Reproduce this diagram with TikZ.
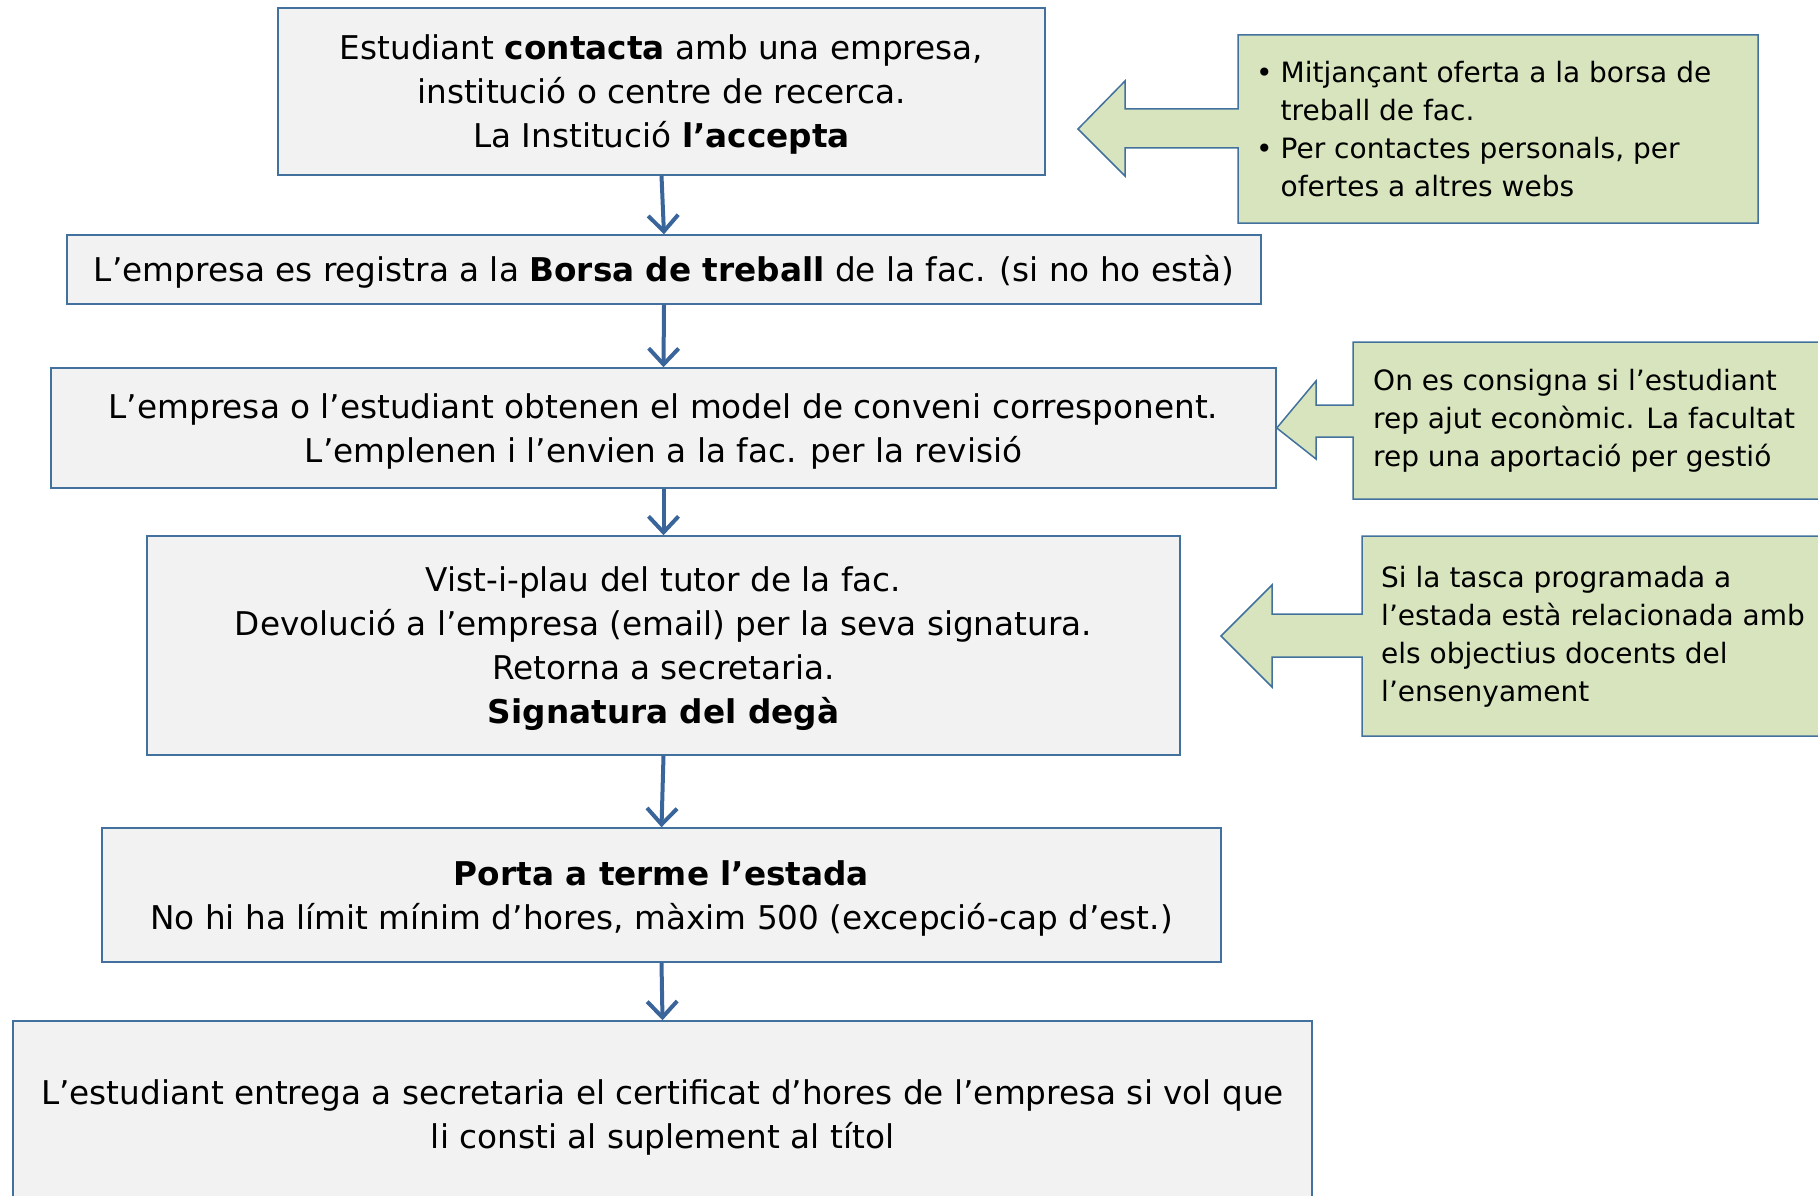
\documentclass[tikz,border=0pt]{standalone}
\usepackage{fontspec}
\setmainfont{DejaVu Sans}
\usetikzlibrary{arrows.meta}
\definecolor{boxblue}{HTML}{41719C}
\definecolor{arrowblue}{HTML}{3A659B}
\definecolor{boxgray}{HTML}{F2F2F2}
\definecolor{notegreen}{HTML}{D7E4BD}
\newcommand{\mainsize}{\fontsize{32.7}{44}\selectfont}
\newcommand{\notesize}{\fontsize{28}{38}\selectfont}

\begin{document}
\begin{tikzpicture}[x=1pt, y=-1pt,
    stepbox/.style={draw=boxblue, fill=boxgray, line width=1.5pt, align=center, inner sep=0pt,
      font=\mainsize, text depth=0pt},
    notebox/.style={draw=boxblue, fill=notegreen, line width=1.5pt, line join=miter},
    notetext/.style={align=left, inner sep=0pt, anchor=west, font=\notesize},
    flow/.style={draw=arrowblue, line width=4pt, -{Straight Barb[length=16pt, width=30pt]}}]
  \useasboundingbox (0,0) rectangle (1818,1196);

  % steps
  \node[stepbox, text height=112pt, minimum width=767pt, minimum height=167pt] (contacta) at (661.5,91.5)
    {Estudiant \textbf{contacta} amb una empresa,\\ institució o centre de recerca.\\ La Institució \textbf{l’accepta}};
  \node[stepbox, text height=24pt, minimum width=1194pt, minimum height=69pt] (borsa) at (664,269.5)
    {L’empresa es registra a la \textbf{Borsa de treball} de la fac. (si no ho està)};
  \node[stepbox, text height=68pt, minimum width=1225pt, minimum height=120pt] (conveni) at (663.5,428)
    {L’empresa o l’estudiant obtenen el model de conveni corresponent.\\ L’emplenen i l’envien a la fac. per la revisió};
  \node[stepbox, text height=156pt, minimum width=1033pt, minimum height=219pt] (vistiplau) at (663.5,645.5)
    {Vist-i-plau del tutor de la fac.\\ Devolució a l’empresa (email) per la seva signatura.\\ Retorna a secretaria.\\ \textbf{Signatura del degà}};
  \node[stepbox, text height=68pt, minimum width=1119pt, minimum height=134pt] (estada) at (661.5,895)
    {\textbf{Porta a terme l’estada}\\ No hi ha límit mínim d’hores, màxim 500 (excepció-cap d’est.)};
  \node[stepbox, text height=68pt, minimum width=1299pt, minimum height=186pt] (certificat) at (662.5,1114)
    {L’estudiant entrega a secretaria el certificat d’hores de l’empresa si vol que\\ li consti al suplement al títol};

  \draw[flow] (contacta.south) -- (borsa.north);
  \draw[flow] (borsa.south) -- (conveni.north);
  \draw[flow] (conveni.south) -- (vistiplau.north);
  \draw[flow] (vistiplau.south) -- (estada.north);
  \draw[flow] (estada.south) -- (certificat.north);

  % notes
  \draw[notebox] (1238,35) -- (1758,35) -- (1758,223) -- (1238,223) -- (1238,148) -- (1125,148)
    -- (1125,176) -- (1078,129) -- (1125,81) -- (1125,109) -- (1238,109) -- cycle;
  \node[notetext] (borsanota) at (1256,129)
    {•\hspace{8pt}Mitjançant oferta a la borsa de\\ \hphantom{•\hspace{8pt}}treball de fac.\\
     •\hspace{8pt}Per contactes personals, per\\ \hphantom{•\hspace{8pt}}ofertes a altres webs};

  \draw[notebox] (1353,342) -- (1830,342) -- (1830,499) -- (1353,499) -- (1353,437) -- (1316,437)
    -- (1316,459) -- (conveni.east) -- (1316,381) -- (1316,405) -- (1353,405) -- cycle;
  \node[notetext] (ajutnota) at (1373,421)
    {On es consigna si l’estudiant\\ rep ajut econòmic. La facultat\\ rep una aportació per gestió};

  \draw[notebox] (1362,536) -- (1830,536) -- (1830,736) -- (1362,736) -- (1362,657) -- (1272,657)
    -- (1272,687) -- (1221,636) -- (1272,585) -- (1272,614) -- (1362,614) -- cycle;
  \node[notetext] (tascanota) at (1381,637)
    {Si la tasca programada a\\ l’estada està relacionada amb\\ els objectius docents del\\ l’ensenyament};
\end{tikzpicture}
\end{document}
